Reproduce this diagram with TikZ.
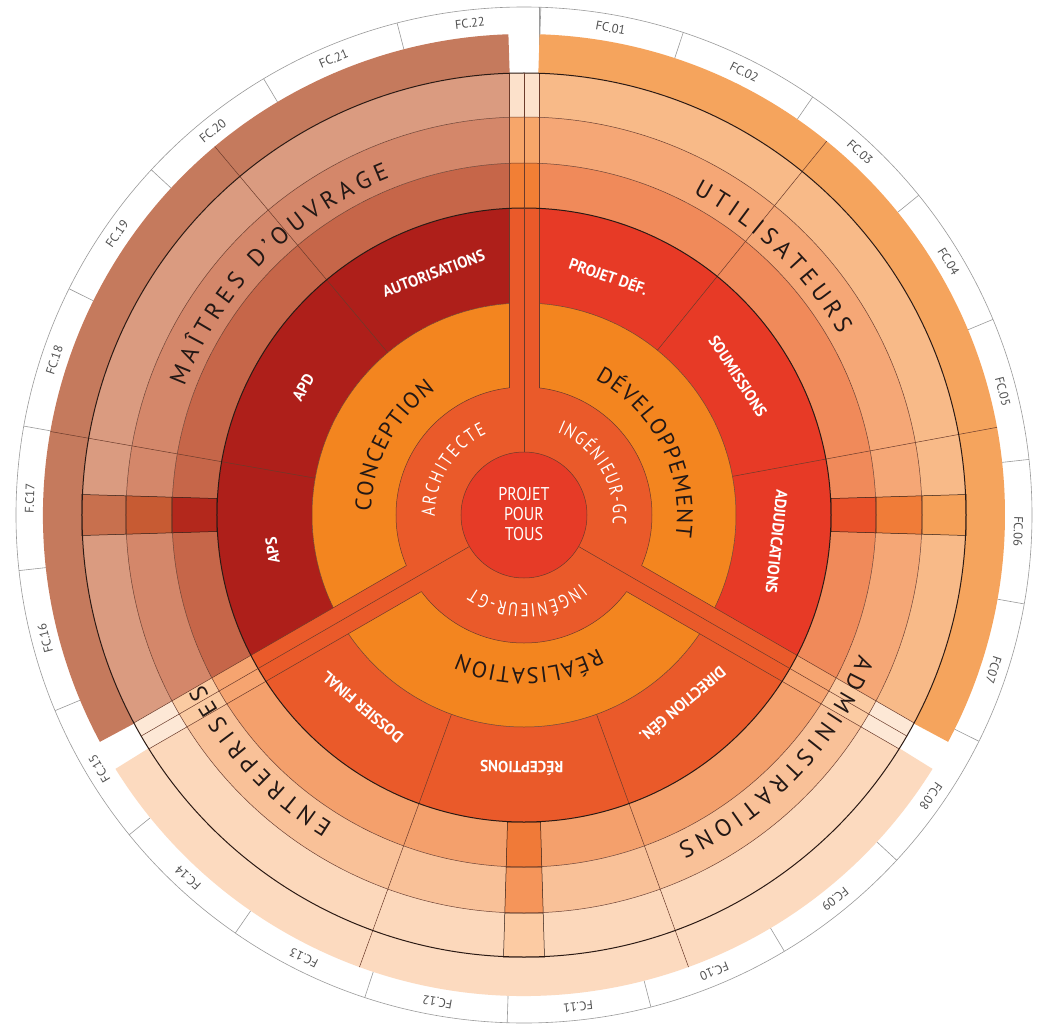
\documentclass[tikz,border=0pt]{standalone}
\usepackage{fontspec}
\setmainfont{PT Sans}
\newfontfamily\stfont{PT Sans}
\newfontfamily\nafont[FakeStretch=0.8]{PT Sans}
\newfontfamily\cefont[FakeStretch=0.87]{PT Sans}
\newfontfamily\bofont[FakeStretch=0.95]{PT Sans}

\definecolor{centc}{HTML}{E63B27}
\definecolor{innerc}{HTML}{EA5A2A}
\definecolor{orngc}{HTML}{F3851F}
\definecolor{dkC}{HTML}{AE1F1A}
\definecolor{dkD}{HTML}{E73A26}
\definecolor{dkR}{HTML}{EA5A2A}
\definecolor{C1}{HTML}{C66649}
\definecolor{C2}{HTML}{D4876A}
\definecolor{C3}{HTML}{DA9B80}
\definecolor{Cout}{HTML}{C57A5D}
\definecolor{D1}{HTML}{F08A5A}
\definecolor{D2}{HTML}{F5A776}
\definecolor{D3}{HTML}{F8BA88}
\definecolor{Dout}{HTML}{F5A45D}
\definecolor{R1}{HTML}{F4A06C}
\definecolor{R2}{HTML}{F9C198}
\definecolor{R3}{HTML}{FCD8BB}
\definecolor{Rout}{HTML}{FCDABF}
\definecolor{chC1}{HTML}{B3281C}
\definecolor{chC2}{HTML}{C75B33}
\definecolor{chC3}{HTML}{C8704E}
\definecolor{chD1}{HTML}{E9522A}
\definecolor{chD2}{HTML}{F07C38}
\definecolor{chD3}{HTML}{F5A058}
\definecolor{chR1}{HTML}{F07A38}
\definecolor{chR2}{HTML}{F5955A}
\definecolor{chR3}{HTML}{FCCBA3}
\definecolor{spT1}{HTML}{F27F35}
\definecolor{spT2}{HTML}{F7A66A}
\definecolor{spT3}{HTML}{FCE1CB}
\definecolor{spL1}{HTML}{F6A470}
\definecolor{spL2}{HTML}{FBCBA2}
\definecolor{spL3}{HTML}{FDE8D6}
\definecolor{linec}{HTML}{6B3B2B}
\definecolor{lined}{HTML}{2B1A14}
\definecolor{fcgrey}{HTML}{9A9A9A}
\definecolor{fctext}{HTML}{505050}
\definecolor{labc}{HTML}{231815}

\makeatletter
\newsavebox\chbox
% #1 result macro, #2 baseline radius, #3 mid angle, #4 font, #5 tracking, #6 letters
\newcommand\arcprep[6]{%
  \gdef\arctot{0}%
  \foreach \myc in {#6}{%
    \sbox\chbox{#4\myc}\edef\wnum{\strip@pt\wd\chbox}%
    \pgfmathparse{\arctot+\wnum+#5}%
    \xdef\arctot{\pgfmathresult}%
  }%
  \pgfmathparse{#3+((\arctot-#5)/2)/#2*180/pi}%
  \xdef\arccur{\pgfmathresult}%
  \gdef#1{}%
  \foreach \myc in {#6}{%
    \sbox\chbox{#4\myc}\edef\wnum{\strip@pt\wd\chbox}%
    \pgfmathparse{\arccur-(\wnum/2)/#2*180/pi}%
    \let\arca\pgfmathresult
    \xdef#1{\unexpanded\expandafter{#1}\noexpand\node[rotate=\arca-90,anchor=base,inner sep=0pt] at (\arca:#2) {\unexpanded{#4}\unexpanded\expandafter{\myc}};}%
    \pgfmathparse{\arccur-(\wnum+#5)/#2*180/pi}%
    \xdef\arccur{\pgfmathresult}%
  }%
}
\makeatother
\newcommand\sect[5]{\path[#1] (#2:#4) arc[start angle=#2,end angle=#3,radius=#4] -- (#3:#5) arc[start angle=#3,end angle=#2,radius=#5] -- cycle;}
\newcommand\chcell[6]{\begin{scope}[rotate=#1]\path[fill=#6,draw=lined,line width=.5pt] (#2,-#3) -- (#4,-#5) -- (#4,#5) -- (#2,#3) -- cycle;\end{scope}}
\newcommand\spoke[4]{%
  \begin{scope}[rotate=#1]
    \fill[innerc] (118,-15) rectangle (307,15);
    \fill[#2] (307,-15) rectangle (352,15);
    \fill[#3] (352,-15) rectangle (398,15);
    \fill[#4] (398,-15) rectangle (442,15);
    \draw[lnthin] (127.1,-15) -- (442,-15) (127.1,15) -- (442,15);
  \end{scope}}

\newcommand\myinf{\color{white}\nafont\fontsize{19}{19}\selectfont}
\newcommand\myphf{\color{labc}\stfont\fontsize{22.5}{22.5}\selectfont}
\newcommand\myshf{\color{labc}\stfont\fontsize{24}{24}\selectfont}

\begin{document}
\arcprep{\tARCH}{89}{148}{\myinf}{2.2}{A,R,C,H,I,T,E,C,T,E}%
\arcprep{\tINGC}{89}{31}{\myinf}{1.6}{I,N,G,É,N,I,E,U,R,-,G,C}%
\arcprep{\tINGT}{89}{-87.6}{\myinf}{1.6}{I,N,G,É,N,I,E,U,R,-,G,T}%
\arcprep{\tCONC}{153}{152}{\myphf}{1.3}{C,O,N,C,E,P,T,I,O,N}%
\arcprep{\tDEVE}{153}{27}{\myphf}{1.3}{D,É,V,E,L,O,P,P,E,M,E,N,T}%
\arcprep{\tREAL}{153}{-88}{\myphf}{1.3}{R,É,A,L,I,S,A,T,I,O,N}%
\arcprep{\tMAIT}{363}{135.5}{\myshf}{5}{M,A,Î,T,R,E,S,~,D,’,O,U,V,R,A,G,E}%
\arcprep{\tUTIL}{363}{46}{\myshf}{5}{U,T,I,L,I,S,A,T,E,U,R,S}%
\arcprep{\tADMI}{363}{-43.8}{\myshf}{5}{A,D,M,I,N,I,S,T,R,A,T,I,O,N,S}%
\arcprep{\tENTR}{363}{-137}{\myshf}{5}{E,N,T,R,E,P,R,I,S,E,S}%
\begin{tikzpicture}[x=1pt,y=1pt,
  lnthin/.style={draw=linec,line width=0.5pt},
  lnblack/.style={draw=lined,line width=1pt},
  lnfc/.style={draw=fcgrey,line width=0.6pt}]
\fill[white] (-524,-511) rectangle (517,515);
\useasboundingbox (-524,-511) rectangle (517,515);

% ---- FC ring
\draw[lnfc] (0,0) circle[radius=508];
\foreach \lab [count=\k from 0] in {FC.01,FC.02,FC.03,FC.04,FC.05,FC.06,FC07,FC.08,FC.09,FC.10,FC.11,FC.12,FC.13,FC.14,FC.15,FC.16,F.C17,FC.18,FC.19,FC.20,FC.21,FC.22}{
  \pgfmathsetmacro\fa{88.1-16.3636*\k}
  \pgfmathsetmacro\fm{\fa-8.1818}
  \draw[lnfc] (\fa:481) -- (\fa:508);
  \node[rotate=\fm-90,text=fctext,font=\stfont\fontsize{12.5}{12.5}\selectfont,inner sep=0pt] (fc\k) at (\fm:494.5) {\lab};
}
\draw[lnfc] (90:442) ++(15,0) coordinate (topedge) -- ++(0,66);

% ---- outer bands
\sect{fill=Cout}{91.86}{208.14}{442}{481}
\sect{fill=Dout}{-28.14}{88.14}{442}{481}
\sect{fill=Rout}{211.86}{328.14}{442}{481}

% ---- middle bands
\sect{fill=C1}{90}{210}{307}{352}
\sect{fill=C2}{90}{210}{352}{398}
\sect{fill=C3}{90}{210}{398}{442}
\sect{fill=D1}{-30}{90}{307}{352}
\sect{fill=D2}{-30}{90}{352}{398}
\sect{fill=D3}{-30}{90}{398}{442}
\sect{fill=R1}{210}{330}{307}{352}
\sect{fill=R2}{210}{330}{352}{398}
\sect{fill=R3}{210}{330}{398}{442}

% ---- quadrant channels
\chcell{0}{307}{16.5}{352}{17.8}{chD1}
\chcell{0}{352}{17.8}{398}{19.2}{chD2}
\chcell{0}{398}{19.2}{442}{20.5}{chD3}
\chcell{180}{307}{16.5}{352}{17.8}{chC1}
\chcell{180}{352}{17.8}{398}{19.2}{chC2}
\chcell{180}{398}{19.2}{442}{20.5}{chC3}
\chcell{270}{307}{16.5}{352}{17.8}{chR1}
\chcell{270}{352}{17.8}{398}{19.2}{chR2}
\chcell{270}{398}{19.2}{442}{20.5}{chR3}

% ---- dark ring
\sect{fill=dkC}{90}{210}{212}{307}
\sect{fill=dkD}{-30}{90}{212}{307}
\sect{fill=dkR}{210}{330}{212}{307}
\foreach \a in {130,170,51,10.5,-70,-110}{\draw[lnthin] (\a:212) -- (\a:481);}

% ---- orange ring and inner ring
\fill[orngc] (0,0) circle[radius=212];
\draw[lnthin] (0,0) circle[radius=212];
\fill[innerc] (0,0) circle[radius=128];
\draw[lnthin] (0,0) circle[radius=128];

% ---- spokes
\spoke{90}{spT1}{spT2}{spT3}
\spoke{210}{spL1}{spL2}{spL3}
\spoke{330}{spL1}{spL2}{spL3}

% ---- ring lines
\draw[lnthin] (0,0) circle[radius=352];
\draw[lnthin] (0,0) circle[radius=398];
\draw[lnblack] (0,0) circle[radius=307];
\draw[lnblack] (0,0) circle[radius=442];
\foreach \a in {90,210,330}{\draw[lnthin] (\a:63) -- (\a:442);}

% ---- centre
\fill[centc] (0,0) circle[radius=63];
\draw[lnthin] (0,0) circle[radius=63];
\node[text=white,align=center,font=\cefont\fontsize{18.5}{20}\selectfont] (centre) at (0,1) {PROJET\\POUR\\TOUS};

% ---- curved labels
\tARCH \tINGC \tINGT
\tCONC \tDEVE \tREAL
\tMAIT \tUTIL \tADMI \tENTR

% ---- dark ring labels
\tikzset{steplab/.style={text=white,font=\bofont\bfseries\fontsize{16}{16}\selectfont,inner sep=0pt}}
\node[steplab,rotate=98] (aps) at (188:254) {APS};
\node[steplab,rotate=60] (apd) at (150:255) {APD};
\node[steplab,rotate=20.5] (auto) at (110.5:258) {AUTORISATIONS};
\node[steplab,rotate=-19.5] (pdef) at (70.5:254) {PROJET DÉF.};
\node[steplab,rotate=-57] (soum) at (33:255) {SOUMISSIONS};
\node[steplab,rotate=-96] (adju) at (-6:254) {ADJUDICATIONS};
\node[steplab,rotate=-140] (dirg) at (-50:248) {DIRECTION GÉN.};
\node[steplab,rotate=-180.5] (recp) at (-90.5:253) {RÉCEPTIONS};
\node[steplab,rotate=-220] (dosf) at (-130:251) {DOSSIER FINAL};
\end{tikzpicture}
\end{document}
